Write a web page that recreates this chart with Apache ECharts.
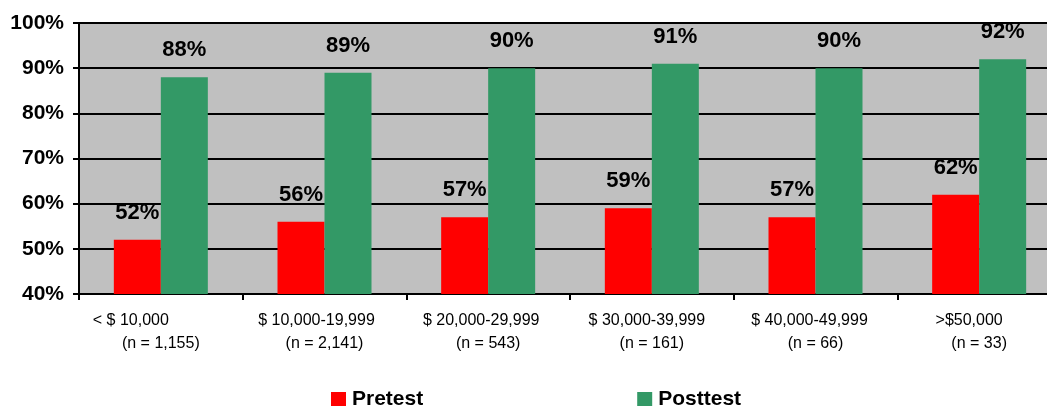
<!DOCTYPE html>
<html>
<head>
<meta charset="utf-8">
<script src="https://cdn.jsdelivr.net/npm/echarts@6/dist/echarts.min.js"></script>
<style>
  html, body { margin: 0; padding: 0; background: #fff; }
  #main { width: 1047px; height: 406px; }
</style>
</head>
<body>
<div id="main"></div>
<script>
  // income groups, two label lines each
  const incomeRanges = ['< $ 10,000', '$ 10,000-19,999', '$ 20,000-29,999', '$ 30,000-39,999', '$ 40,000-49,999', '>$50,000'];
  const sampleSizes = ['(n = 1,155)', '(n = 2,141)', '(n = 543)', '(n = 161)', '(n = 66)', '(n = 33)'];
  const pretest = [52, 56, 57, 59, 57, 62];
  const posttest = [88, 89, 90, 91, 90, 92];
  const yTicks = [40, 50, 60, 70, 80, 90, 100];

  // first label line sits a bit left of the category centre in the original
  const line1Shift = [30, 8, 7, 5, 6, 10];

  const font = '"Liberation Sans", Arial, sans-serif';

  const rich = { b: { fontSize: 16, fontFamily: font, color: '#000', lineHeight: 23 } };
  line1Shift.forEach((s, i) => {
    rich['a' + i] = { fontSize: 16, fontFamily: font, color: '#000', lineHeight: 23, padding: [0, s * 2, 0, 0] };
  });

  const chart = echarts.init(document.getElementById('main'));

  const dataLabel = {
    show: true,
    position: 'top',
    distance: 16,
    formatter: '{c}%',
    fontSize: 22,
    fontWeight: 'bold',
    fontFamily: font,
    color: '#000'
  };

  chart.setOption({
    animation: false,
    grid: {
      left: 79,
      top: 23,
      width: 982,
      height: 271,
      show: true,
      backgroundColor: '#C0C0C0',
      borderWidth: 0,
      outerBoundsMode: 'none'
    },
    legend: {
      data: ['Pretest', 'Posttest'],
      left: 331,
      top: 389,
      padding: 0,
      itemWidth: 15,
      itemHeight: 15,
      itemGap: 214,
      icon: 'rect',
      textStyle: { fontSize: 21, fontWeight: 'bold', fontFamily: font, color: '#000', padding: [0, 0, 0, 1] }
    },
    xAxis: {
      type: 'category',
      data: incomeRanges,
      axisLine: { lineStyle: { color: '#000', width: 2 } },
      axisTick: { show: true, length: 6, lineStyle: { color: '#000', width: 2 } },
      axisLabel: {
        margin: 15,
        interval: 0,
        formatter: (v, i) => '{a' + i + '|' + v + '}\n{b|' + sampleSizes[i] + '}',
        rich: rich
      }
    },
    yAxis: {
      type: 'value',
      min: yTicks[0],
      max: yTicks[yTicks.length - 1],
      interval: 10,
      axisLine: { show: true, lineStyle: { color: '#000', width: 2 } },
      axisTick: { show: true, length: 6, lineStyle: { color: '#000', width: 2 } },
      splitLine: { show: true, lineStyle: { color: '#000', width: 2 } },
      axisLabel: {
        margin: 15,
        formatter: '{value}%',
        fontSize: 21,
        fontWeight: 'bold',
        fontFamily: font,
        color: '#000'
      }
    },
    series: [
      {
        name: 'Pretest',
        type: 'bar',
        data: pretest,
        barWidth: 47,
        barGap: '0%',
        itemStyle: { color: '#FF0000' },
        label: dataLabel
      },
      {
        name: 'Posttest',
        type: 'bar',
        data: posttest,
        barWidth: 47,
        itemStyle: { color: '#339966' },
        label: dataLabel
      }
    ]
  });
</script>
</body>
</html>
